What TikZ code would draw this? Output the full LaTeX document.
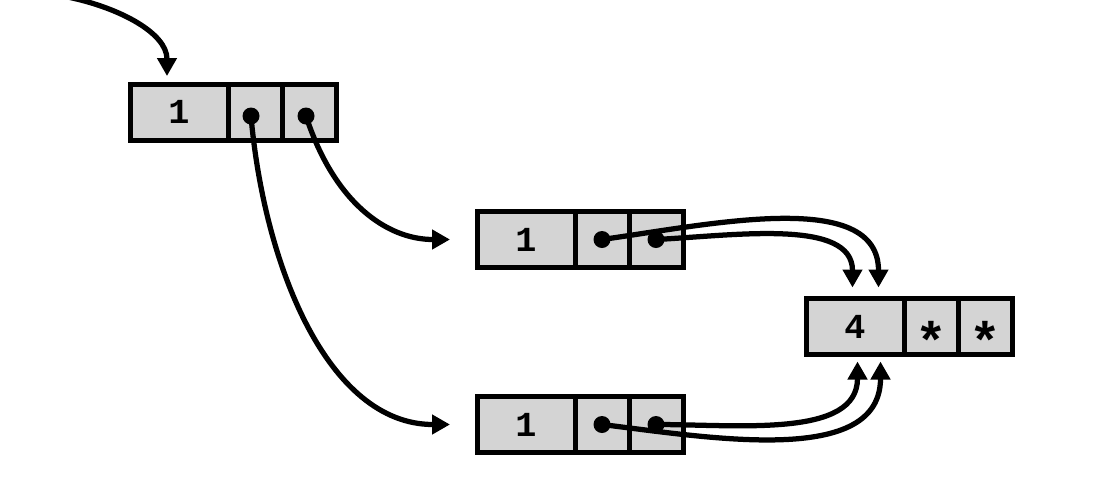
\documentclass[tikz,border=0pt]{standalone}
\usepackage{fontspec}
\setmonofont{Liberation Mono}
\usetikzlibrary{positioning,arrows.meta}
\definecolor{cellgray}{gray}{0.83}
\newcommand{\nilmark}{\smash{\raisebox{-18.5pt}{\fontsize{30}{30}\selectfont *}}}

\begin{document}
\begin{tikzpicture}[
		>={Triangle[length=0.36cm,width=0.38cm]},
		cell/.style={draw,fill=cellgray,line width=0.1cm,inner sep=0pt,outer sep=0pt,
			minimum height=1.12cm,font=\fontsize{20}{22}\selectfont\ttfamily\bfseries},
		headcell/.style={cell,minimum width=1.96cm},
		ptrcell/.style={cell,minimum width=1.08cm},
		ptr/.style={->,line width=0.105cm},
		dotr/.style={radius=0.17cm},
	]
	\useasboundingbox (0,0) rectangle (22.32,-9.72);

	% ---------- top list head ----------
	\node[headcell] (t1) at (3.58,-2.24) {1};
	\node[ptrcell,right=0pt of t1] (t2) {};
	\node[ptrcell,right=0pt of t2] (t3) {};

	% ---------- middle and bottom cells ----------
	\node[headcell] (m1) at (10.52,-4.79) {1};
	\node[ptrcell,right=0pt of m1] (m2) {};
	\node[ptrcell,right=0pt of m2] (m3) {};

	\node[headcell] (b1) at (10.52,-8.49) {1};
	\node[ptrcell,right=0pt of b1] (b2) {};
	\node[ptrcell,right=0pt of b2] (b3) {};

	% ---------- shared tail ----------
	\node[headcell] (r1) at (17.10,-6.53) {4};
	\node[ptrcell,right=0pt of r1] (r2) {\nilmark};
	\node[ptrcell,right=0pt of r2] (r3) {\nilmark};

	% ---------- pointers ----------
	\coordinate (entry) at (1.4,0.05);
	\draw[ptr,shorten >=0.16cm] (entry) to[out=-12,in=90] ([xshift=-0.24cm]t1.north);

	\fill ([shift={(-0.08,-0.08)}]t2.center) coordinate (t2p) circle[dotr];
	\fill ([shift={(-0.06,-0.08)}]t3.center) coordinate (t3p) circle[dotr];
	\draw[ptr,shorten >=0.54cm] (t3p) to[out=-72,in=180,looseness=1.1] (m1.west);
	\draw[ptr,shorten >=0.54cm] (t2p) to[out=-85,in=180] (b1.west);

	\fill (m2.center) circle[dotr];
	\fill (m3.center) circle[dotr];
	\draw[ptr,shorten >=0.22cm] (m2.center) to[out=8,in=90] ([xshift=0.47cm]r1.north);
	\draw[ptr,shorten >=0.22cm] (m3.center) to[out=3,in=90] ([xshift=-0.05cm]r1.north);

	\fill (b2.center) circle[dotr];
	\fill (b3.center) circle[dotr];
	\draw[ptr,shorten >=0.14cm] (b2.center) to[out=-7,in=-90] ([xshift=0.51cm]r1.south);
	\draw[ptr,shorten >=0.14cm] (b3.center) to[out=0,in=-90] ([xshift=0.05cm]r1.south);

\end{tikzpicture}
\end{document}
